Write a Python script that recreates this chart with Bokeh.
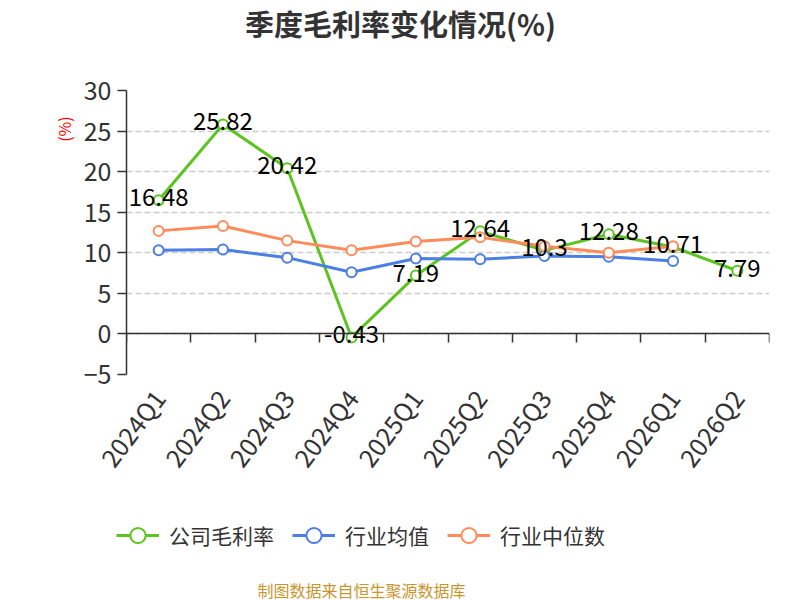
import math
from bokeh.plotting import figure
from bokeh.layouts import column, row
from bokeh.models import (ColumnDataSource, Range1d, FixedTicker, LinearAxis,
                          Legend, LegendItem, Label)
from bokeh.embed import file_html
from bokeh.resources import INLINE
from bokeh.core.properties import value

quarters = ["2024Q1", "2024Q2", "2024Q3", "2024Q4", "2025Q1",
            "2025Q2", "2025Q3", "2025Q4", "2026Q1", "2026Q2"]
company = [16.48, 25.82, 20.42, -0.43, 7.19, 12.64, 10.3, 12.28, 10.71, 7.79]
ind_mean = [10.3, 10.4, 9.4, 7.6, 9.3, 9.2, 9.6, 9.5, 9.0]
ind_median = [12.7, 13.3, 11.5, 10.3, 11.4, 11.9, 10.8, 10.0, 10.8]
y_ticks = [-5, 0, 5, 10, 15, 20, 25, 30]
series_names = ["公司毛利率", "行业均值", "行业中位数"]
title_text = "季度毛利率变化情况(%)"
source_text = "制图数据来自恒生聚源数据库"

FONT = "Noto Sans CJK SC"
GREEN = "#5cc41f"
BLUE = "#4b7fe3"
ORANGE = "#ff8b5a"
colors = [GREEN, BLUE, ORANGE]

idx = list(range(len(quarters)))

TOP_H = 66
MAIN_TOP = 24
MAIN_H = MAIN_TOP + 284 + 130
BOT_H = 600 - TOP_H - MAIN_H


def blank(width, height, xr, yr):
    f = figure(width=width, height=height, x_range=xr, y_range=yr,
               output_backend="svg", toolbar_location=None,
               x_axis_location=None, y_axis_location=None, min_border=0)
    f.outline_line_color = None
    f.background_fill_color = "white"
    f.border_fill_color = "white"
    f.xgrid.visible = False
    f.ygrid.visible = False
    return f


# ---------- top: title ----------
top = blank(800, TOP_H, Range1d(0, 800), Range1d(0, TOP_H))
top.add_layout(Label(x=400, y=TOP_H - 22, text=title_text, text_align="center",
                     text_baseline="middle", text_font_size="29px",
                     text_font_style="bold", text_color="#333333",
                     text_font=FONT))

# ---------- left strip: y axis name ----------
ylab = blank(80, MAIN_H, Range1d(0, 80), Range1d(0, MAIN_H))
ylab.add_layout(Label(x=63.5, y=MAIN_H - (125.5 - TOP_H), text="(%)",
                      angle=math.pi / 2, text_align="center",
                      text_baseline="middle", text_font_size="16px",
                      text_color="red", text_font=FONT))

# ---------- main chart ----------
p = figure(width=720, height=MAIN_H, x_range=Range1d(-0.5, len(quarters) - 0.5),
           y_range=Range1d(min(y_ticks), max(y_ticks)),
           output_backend="svg", toolbar_location=None,
           min_border_left=46, min_border_right=31,
           min_border_top=MAIN_TOP, min_border_bottom=130)
p.outline_line_color = None
p.background_fill_color = "white"
p.border_fill_color = "white"

p.xgrid.visible = False
p.ygrid.ticker = FixedTicker(ticks=y_ticks)
p.ygrid.grid_line_color = "#cccccc"
p.ygrid.grid_line_dash = "6 3"
p.ygrid.grid_line_width = 1.3

ya = p.yaxis[0]
ya.ticker = FixedTicker(ticks=y_ticks)
ya.axis_line_color = "#333333"
ya.axis_line_width = 1.5
ya.major_tick_line_color = "#333333"
ya.major_tick_line_width = 1.5
ya.major_tick_out = 9
ya.major_tick_in = 0
ya.minor_tick_line_color = None
ya.major_label_text_font_size = "25px"
ya.major_label_text_color = "#333333"
ya.major_label_text_font = FONT
ya.major_label_standoff = 6

xa = p.xaxis[0]
xa.ticker = FixedTicker(ticks=idx)
xa.major_label_overrides = {i: q for i, q in zip(idx, quarters)}
xa.major_label_orientation = math.radians(53)
xa.axis_line_color = None
xa.major_tick_line_color = None
xa.minor_tick_line_color = None
xa.major_label_text_font_size = "25px"
xa.major_label_text_color = "#333333"
xa.major_label_text_font = FONT
xa.major_label_standoff = 12

za = LinearAxis(fixed_location=0,
                ticker=FixedTicker(ticks=[i - 0.5 for i in range(len(quarters) + 1)]))
za.axis_line_color = "#333333"
za.axis_line_width = 1.5
za.major_tick_line_color = "#333333"
za.major_tick_line_width = 1.5
za.major_tick_out = 9
za.major_tick_in = 0
za.minor_tick_line_color = None
za.major_label_text_color = None
p.add_layout(za, "below")

src_c = ColumnDataSource(dict(x=idx, y=company, label=[f"{v:g}" for v in company]))
src_m = ColumnDataSource(dict(x=idx[:len(ind_mean)], y=ind_mean))
src_d = ColumnDataSource(dict(x=idx[:len(ind_median)], y=ind_median))
sources = [src_c, src_m, src_d]

for src, col in zip(sources, colors):
    p.line('x', 'y', source=src, line_color=col, line_width=3)
    p.scatter('x', 'y', source=src, size=10, fill_color="white",
              line_color=col, line_width=2)

p.text('x', 'y', text='label', source=src_c, text_align="center",
       text_baseline="middle", y_offset=-3, text_font_size="24px",
       text_color="black", text_font=value(FONT))

# ---------- bottom: legend and source ----------
bot = blank(800, BOT_H, Range1d(100, 900), Range1d(0, BOT_H))
items = []
for name, src, col in zip(series_names, sources, colors):
    rl = bot.line('x', 'y', source=src, line_color=col, line_width=3)
    rm = bot.scatter('x', 'y', source=src, size=10, fill_color="white",
                     line_color=col, line_width=2)
    items.append(LegendItem(label=name, renderers=[rl, rm]))

legend = Legend(items=items, orientation="horizontal", location=(116, 46))
legend.label_text_font_size = "21px"
legend.label_text_font = FONT
legend.label_text_color = "#333333"
legend.glyph_width = 43
legend.glyph_height = 38
legend.spacing = 18
legend.label_standoff = 10
legend.border_line_color = None
legend.background_fill_alpha = 0
legend.padding = 2
legend.margin = 0
legend.click_policy = "none"
bot.add_layout(legend, "center")

bot.add_layout(Label(x=461, y=11, text=source_text, text_align="center",
                     text_baseline="middle", text_font_size="16px",
                     text_color="#c9962e", text_font=FONT))

layout = column(top, row(ylab, p), bot)
open("out.html", "w").write(file_html(layout, INLINE))
